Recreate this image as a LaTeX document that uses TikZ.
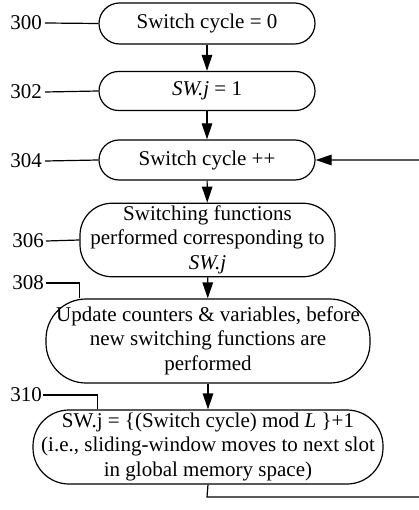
\documentclass[tikz,border=0pt]{standalone}
\usepackage{fontspec}
\setmainfont{Liberation Serif}
\usetikzlibrary{arrows.meta,calc}
\begin{document}
\begin{tikzpicture}[x=1pt,y=-1pt,
  every node/.style={font=\fontsize{21}{24.5}\selectfont},
  flow/.style={draw,line width=1.2pt,rounded corners=#1,inner sep=0pt,align=center},
  link/.style={line width=1.2pt},
  arr/.style={line width=1.2pt,-{Triangle[length=16pt,width=10.5pt]}},
  tag/.style={inner sep=0pt,anchor=east}
]
\useasboundingbox (0,0) rectangle (419,510);

% process steps
\node[flow=20.5pt,minimum width=216pt,minimum height=41pt] (b300) at (207,23.5) {\raisebox{-1.5pt}{Switch cycle = 0}};
\node[flow=19.5pt,minimum width=216pt,minimum height=39pt] (b302) at (207,91) {\raisebox{-1.5pt}{\textit{SW.j} = 1}};
\node[flow=20pt,minimum width=216pt,minimum height=40pt] (b304) at (207,160) {\raisebox{-1.5pt}{Switch cycle ++}};
\node[flow=32pt,minimum width=255pt,minimum height=68pt] (b306) at (207.5,240)
  {\raisebox{-7pt}{\begin{tabular}{@{}c@{}}Switching functions\\performed corresponding to\\\textit{SW.j}\end{tabular}}};
\node[flow=40pt,minimum width=324pt,minimum height=84pt] (b308) at (208,341)
  {\raisebox{-9pt}{\begin{tabular}{@{}c@{}}Update counters \& variables, before\\new switching functions are\\performed\end{tabular}}};
\node[flow=36pt,minimum width=350pt,minimum height=74pt] (b310) at (208,447)
  {\raisebox{-10pt}{\begin{tabular}{@{}c@{}}SW.j = \{(Switch cycle) mod \textit{L} \}+1\\(i.e., sliding-window moves to next slot\\in global memory space)\end{tabular}}};

% flow arrows
\draw[arr] (b300) -- (b302);
\draw[arr] (b302) -- (b304);
\draw[arr] (b304) -- (b306);
\draw[arr] (b306) -- (b308);
\draw[arr] (b308) -- (b310);

% return path to the increment step
\coordinate (r1) at (207,497);
\coordinate (r2) at (425,497);
\coordinate (r3) at (425,160);
\draw[arr] (b310.south) -- (r1) -- (r2) -- (r3) -- (b304.east);

% reference numerals
\node[tag] (l300) at (42,23) {300};
\node[tag] (l302) at (42,92) {302};
\node[tag] (l304) at (42,161) {304};
\node[tag] (l306) at (44,241) {306};
\node[tag] (l308) at (44,283) {308};
\node[tag] (l310) at (42,395) {310};

\draw[link] ([xshift=3pt]l300.east) -- (b300.west);
\draw[link] ([xshift=3pt]l302.east) -- (b302.west);
\draw[link] ([xshift=3pt]l304.east) -- (b304.west);
\draw[link] ([xshift=2pt]l306.east) -- (b306.west);
\draw[link] ([xshift=2pt]l308.east) -| ([xshift=34pt]b308.north west);
\draw[link] ([xshift=1pt]l310.east) -| ([xshift=65pt]b310.north west);
\end{tikzpicture}
\end{document}
